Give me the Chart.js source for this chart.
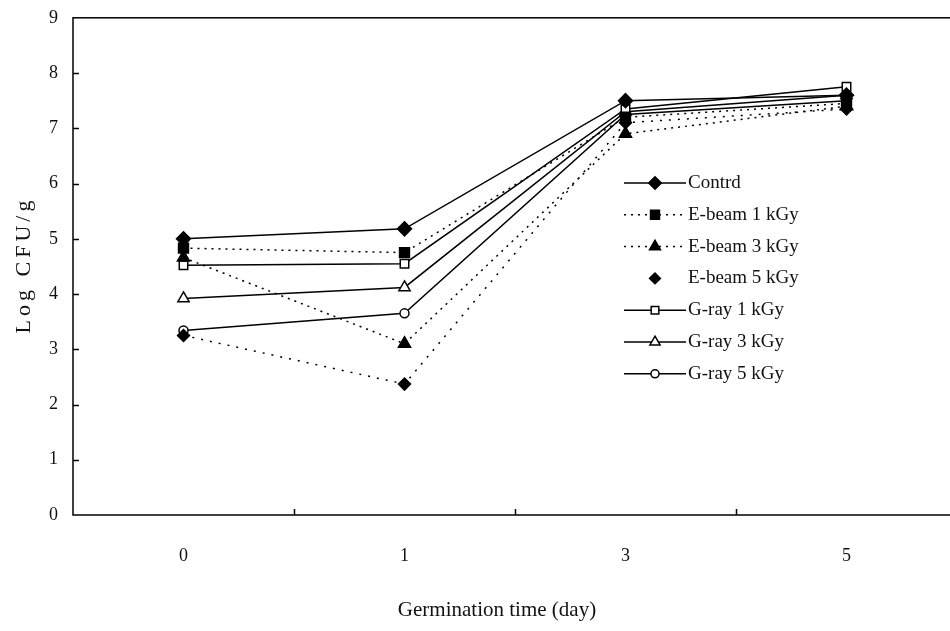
<!DOCTYPE html>
<html><head><meta charset="utf-8">
<script src="https://cdn.jsdelivr.net/npm/chart.js@4/dist/chart.umd.min.js"></script>
<style>html,body{margin:0;padding:0;background:#fff;overflow:hidden}#wrap{width:970px;height:631px;overflow:hidden}#c{display:block;margin-top:-8px}</style>
</head><body><div id="wrap"><canvas id="c" width="970" height="639"></canvas></div>
<script>
// ---- data ----
const days = ['0', '1', '3', '5'];
const seriesNames = ['Contrd', 'E-beam 1 kGy', 'E-beam 3 kGy', 'E-beam 5 kGy', 'G-ray 1 kGy', 'G-ray 3 kGy', 'G-ray 5 kGy'];
const control = [5.0, 5.18, 7.5, 7.6];
const ebeam1 = [4.83, 4.75, 7.2, 7.45];
const ebeam3 = [4.66, 3.1, 6.9, 7.4];
const ebeam5 = [3.25, 2.37, 7.1, 7.35];
const gray1 = [4.52, 4.55, 7.35, 7.75];
const gray3 = [3.92, 4.12, 7.3, 7.6];
const gray5 = [3.34, 3.65, 7.25, 7.5];
const yMin = 0, yMax = 9, yStep = 1;
const yTitle = 'Log CFU/g';
const xTitle = 'Germination time (day)';

const FONT = '"Liberation Serif", "Times New Roman", serif';
const SHIFT = 8; // canvas is shifted up by this many px

function ds(label, data, style, radius, filled, dash, legendLine) {
  return {
    label, data,
    borderColor: '#000', borderWidth: 1.5, borderDash: dash,
    pointStyle: style, pointRadius: radius, pointHoverRadius: radius,
    pointBackgroundColor: filled ? '#000' : '#fff', pointBorderColor: '#000', pointBorderWidth: 1.5,
    tension: 0, fill: false, legendLine
  };
}

const datasets = [
  ds(seriesNames[0], control, 'rectRot', 7, true, [], true),
  ds(seriesNames[1], ebeam1, 'rect', 7, true, [2, 5], true),
  ds(seriesNames[2], ebeam3, 'triangle', 7, true, [2, 5], true),
  ds(seriesNames[3], ebeam5, 'rectRot', 6, true, [2, 7], false),
  ds(seriesNames[4], gray1, 'rect', 6, false, [], true),
  ds(seriesNames[5], gray3, 'triangle', 6.5, false, [], true),
  ds(seriesNames[6], gray5, 'circle', 4.5, false, [], true)
];

const framePlugin = {
  id: 'frame',
  afterDatasetsDraw(chart) {
    const {ctx, chartArea: a, scales} = chart;
    ctx.save();
    ctx.strokeStyle = '#000';
    ctx.lineWidth = 1.5;
    ctx.setLineDash([]);
    ctx.strokeRect(a.left, a.top, a.right - a.left, a.bottom - a.top);
    // inward y ticks
    const y = scales.y;
    y.ticks.forEach((t, i) => {
      if (t.value <= yMin || t.value >= yMax) return;
      const py = Math.round(y.getPixelForTick(i)) + 0.5;
      ctx.beginPath(); ctx.moveTo(a.left, py); ctx.lineTo(a.left + 6, py); ctx.stroke();
    });
    // inward x ticks at category boundaries
    const x = scales.x;
    for (let i = 0; i < days.length - 1; i++) {
      const px = Math.round((x.getPixelForValue(i) + x.getPixelForValue(i + 1)) / 2) + 0.5;
      ctx.beginPath(); ctx.moveTo(px, a.bottom); ctx.lineTo(px, a.bottom - 6); ctx.stroke();
    }
    // x title
    ctx.fillStyle = '#111';
    ctx.font = '21px ' + FONT;
    ctx.textAlign = 'center'; ctx.textBaseline = 'middle';
    ctx.fillText(xTitle, 497, 610 + SHIFT);
    // y title
    ctx.save();
    ctx.translate(24, 267 + SHIFT);
    ctx.rotate(-Math.PI / 2);
    ctx.font = '22px ' + FONT;
    ctx.letterSpacing = '4px';
    ctx.textAlign = 'center'; ctx.textBaseline = 'middle';
    ctx.fillText(yTitle, 2, 0);
    ctx.restore();
    // legend
    const lx0 = 624, lx1 = 686, lxm = 655, ty0 = 183 + SHIFT, dy = 31.8;
    chart.data.datasets.forEach((d, i) => {
      const yy = ty0 + i * dy;
      ctx.save();
      if (d.legendLine) {
        ctx.strokeStyle = '#000'; ctx.lineWidth = 1.5;
        ctx.setLineDash(d.borderDash || []);
        ctx.beginPath(); ctx.moveTo(lx0, yy); ctx.lineTo(lx1, yy); ctx.stroke();
      }
      ctx.setLineDash([]);
      ctx.fillStyle = d.pointBackgroundColor; ctx.strokeStyle = '#000'; ctx.lineWidth = 1.5;
      Chart.helpers.drawPoint(ctx, {pointStyle: d.pointStyle, radius: d.pointRadius * 0.9, rotation: 0, borderWidth: 1.5}, lxm, yy);
      ctx.restore();
      ctx.fillStyle = '#111';
      ctx.font = '19px ' + FONT;
      ctx.textAlign = 'left'; ctx.textBaseline = 'middle';
      ctx.fillText(d.label, 688, yy);
    });
    ctx.restore();
  }
};

new Chart(document.getElementById('c'), {
  type: 'line',
  data: {labels: days, datasets},
  options: {
    responsive: false,
    animation: false,
    layout: {padding: {top: 0, right: 13, left: 0, bottom: 0}},
    plugins: {legend: {display: false}, tooltip: {enabled: false}},
    scales: {
      x: {
        offset: true,
        grid: {display: false, drawTicks: false},
        border: {display: false},
        ticks: {font: {family: FONT, size: 18}, color: '#111', padding: 30, maxRotation: 0},
        afterFit(s) { s.height = 116; }
      },
      y: {
        min: yMin, max: yMax,
        grid: {display: false, drawTicks: false},
        border: {display: false},
        ticks: {stepSize: yStep, font: {family: FONT, size: 18}, color: '#111', padding: 15},
        title: {display: false, text: yTitle},
        afterFit(s) { s.width = 73; }
      }
    }
  },
  plugins: [framePlugin]
});
</script>
</body></html>
